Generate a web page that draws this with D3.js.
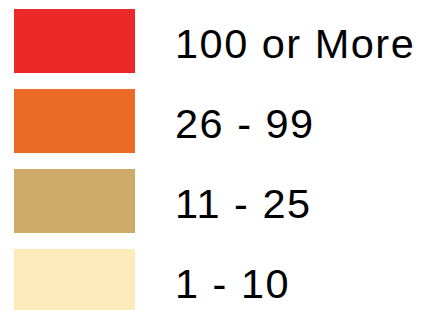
<!DOCTYPE html>
<html>
<head>
<meta charset="utf-8">
<script src="https://cdn.jsdelivr.net/npm/d3@7"></script>
<style>
  html, body { margin: 0; padding: 0; background: #fff; }
  svg { display: block; }
</style>
</head>
<body>
<svg id="legend"></svg>
<script>
const WIDTH = 426;
const HEIGHT = 310;

const labels = ['100 or More', '26 - 99', '11 - 25', '1 - 10'];
const colors = ['#ec2929', '#eb6a26', '#cfab69', '#feebbb'];

// 4 swatches, 64px tall, 80px apart
const yScale = d3.scaleBand()
  .domain(labels)
  .range([9, 313])
  .paddingInner(0.2)
  .paddingOuter(0)
  .align(0);

const color = d3.scaleOrdinal()
  .domain(labels)
  .range(colors);

const svg = d3.select('#legend')
  .attr('width', WIDTH)
  .attr('height', HEIGHT);

const rows = svg.selectAll('g.row')
  .data(labels)
  .enter()
  .append('g')
  .attr('class', 'row')
  .attr('transform', d => `translate(0, ${yScale(d)})`);

rows.append('rect')
  .attr('x', 14)
  .attr('width', 121)
  .attr('height', yScale.bandwidth())
  .attr('fill', d => color(d));

rows.append('text')
  .attr('x', 175)
  .attr('y', 48.5)
  .style('font-family', 'Liberation Sans, Arial, sans-serif')
  .style('font-size', '41.5px')
  .style('letter-spacing', '1.5px')
  .attr('fill', '#000')
  .text(d => d);
</script>
</body>
</html>
